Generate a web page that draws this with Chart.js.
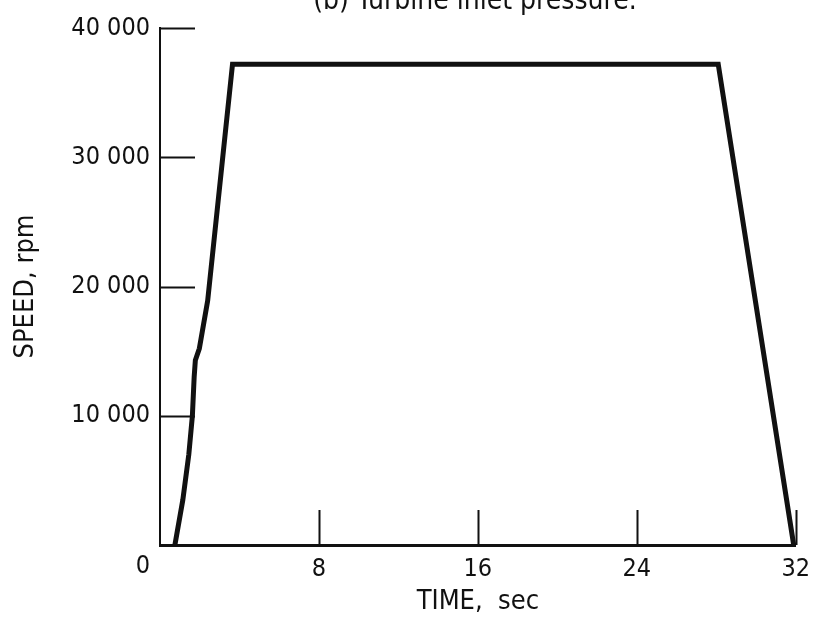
<!DOCTYPE html>
<html>
<head>
<meta charset="utf-8">
<script src="https://cdn.jsdelivr.net/npm/chart.js@4/dist/chart.umd.min.js"></script>
<style>
html,body{margin:0;padding:0;background:#fff;}
#wrap{width:819px;height:620px;}
</style>
</head>
<body>
<div id="wrap"><canvas id="c" width="819" height="620"></canvas></div>
<script>
const titleText = "(b) Turbine inlet pressure.";
const xTitle = "TIME,  sec";
const yTitle = "SPEED, rpm";
const timeSec = [0.75, 1.15, 1.45, 1.63, 1.72, 1.78, 1.98, 2.4, 3.65, 28.1, 31.9];
const speedRpm = [0, 3500, 7000, 10000, 13000, 14300, 15200, 18900, 37200, 37200, 0];
const xTickValues = [8, 16, 24, 32];
const yTickValues = [10000, 20000, 30000, 40000];

const FONT = '"DejaVu Sans Condensed", sans-serif';
const INK = '#111';

const points = timeSec.map((t, i) => ({x: t, y: speedRpm[i]}));

const innerTicks = {
  id: 'innerTicks',
  afterDraw(chart) {
    const ctx = chart.ctx, xs = chart.scales.x, ys = chart.scales.y;
    const a = chart.chartArea;
    ctx.save();
    ctx.strokeStyle = INK;
    ctx.lineWidth = 2;
    ctx.beginPath();
    yTickValues.forEach(v => {
      const py = Math.round(ys.getPixelForValue(v)) + 0.5;
      ctx.moveTo(a.left, py); ctx.lineTo(a.left + 35, py);
    });
    xTickValues.forEach(v => {
      const px = Math.round(xs.getPixelForValue(v)) + 0.5;
      ctx.moveTo(px, a.bottom); ctx.lineTo(px, a.bottom - 35);
    });
    ctx.stroke();
    ctx.fillStyle = INK;
    // origin label, set slightly left of the axis as in the original
    ctx.font = '25px ' + FONT;
    ctx.textAlign = 'center';
    ctx.textBaseline = 'top';
    ctx.fillText('0', xs.getPixelForValue(0) - 17, a.bottom + 9);
    // clipped title at top
    ctx.font = '28px ' + FONT;
    ctx.textBaseline = 'alphabetic';
    ctx.fillText(titleText, 475, 9);
    ctx.restore();
  }
};

new Chart(document.getElementById('c'), {
  type: 'line',
  data: {
    datasets: [{
      data: points,
      borderColor: INK,
      borderWidth: 5,
      pointRadius: 0,
      tension: 0,
      fill: false,
      borderJoinStyle: 'miter',
      clip: false
    }]
  },
  options: {
    responsive: false,
    animation: false,
    layout: {padding: {top: 28, right: 17, left: 0, bottom: 0}},
    plugins: {legend: {display: false}, tooltip: {enabled: false}, title: {display: false}},
    scales: {
      x: {
        type: 'linear', min: 0, max: 32,
        grid: {display: false, drawTicks: false},
        border: {display: true, color: INK, width: 3},
        ticks: {stepSize: 8, color: INK, font: {family: FONT, size: 25}, padding: 9,
          maxRotation: 0, autoSkip: false, callback: v => v === 0 ? '' : String(v)},
        title: {display: true, text: xTitle, color: INK, font: {family: FONT, size: 27}, padding: {top: 0, bottom: 2}},
        afterFit(s) { s.height = 75; }
      },
      y: {
        type: 'linear', min: 0, max: 40000,
        grid: {display: false, drawTicks: false},
        border: {display: true, color: INK, width: 2},
        ticks: {stepSize: 10000, color: INK, font: {family: FONT, size: 25}, padding: 10,
          callback: v => v === 0 ? '' : String(v).replace(/\B(?=(\d{3})+(?!\d))/g, ' ')},
        title: {display: true, text: yTitle, color: INK, font: {family: FONT, size: 27}, padding: {top: 10, bottom: 0}},
        afterFit(s) { s.width = 160; }
      }
    }
  },
  plugins: [innerTicks]
});
</script>
</body>
</html>
